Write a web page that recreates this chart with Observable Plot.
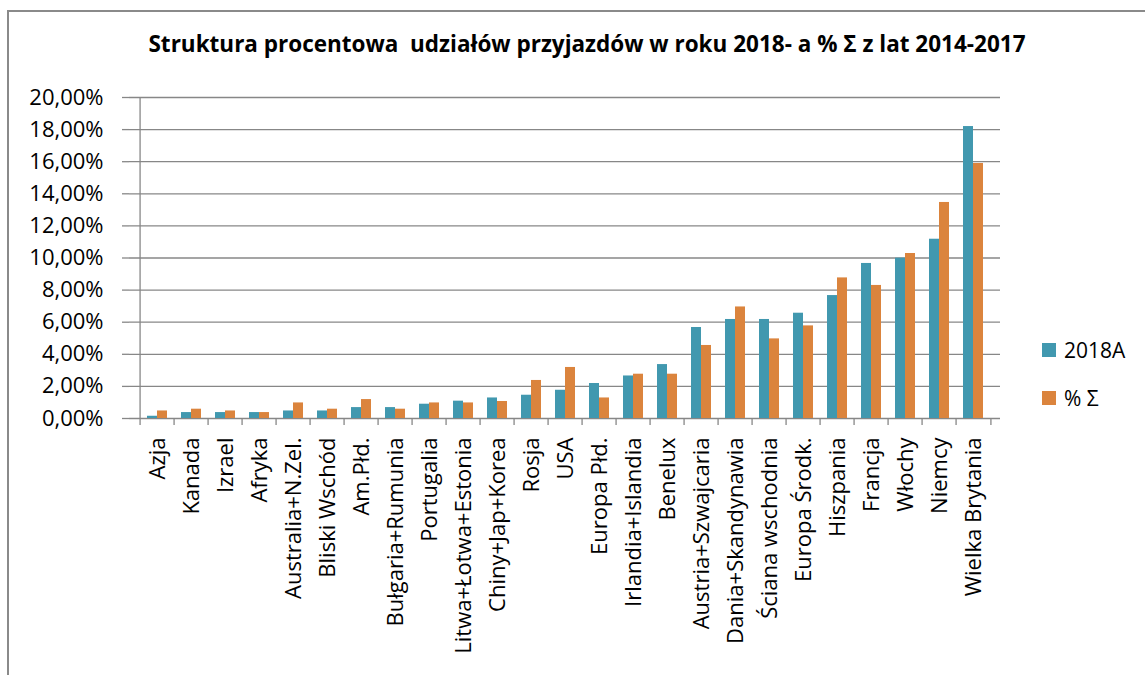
<!DOCTYPE html>
<html>
<head>
<meta charset="utf-8">
<script src="https://cdn.jsdelivr.net/npm/d3@7"></script>
<script src="https://cdn.jsdelivr.net/npm/@observablehq/plot@0.6"></script>
<style>
  html, body { margin: 0; padding: 0; background: #fff; }
  #wrap { position: relative; width: 1145px; height: 675px; overflow: hidden; font-family: "Open Sans", sans-serif; }
  #border { position: absolute; left: 7px; top: 10px; right: -5px; bottom: -5px; border-left: 2px solid #8a8a8a; border-top: 2px solid #8a8a8a; }
  #title { position: absolute; left: 0; width: 1174px; top: 30px; text-align: center; font-weight: bold; font-size: 22.5px; line-height: 1.2; white-space: pre; color: #000; }
  #chart { position: absolute; left: 0; top: 0; }
  .leg { position: absolute; left: 1042px; font-size: 21px; color: #000; line-height: 1; }
  .leg span.sw { position: absolute; left: 0; width: 14px; height: 14px; }
  .leg span.lb { position: absolute; left: 22px; white-space: pre; }
</style>
</head>
<body>
<div id="wrap">
  <div id="border"></div>
  <div id="title"></div>
  <div id="chart"></div>
  <div id="legend"></div>
</div>
<script>
const titleText = "Struktura procentowa  udziałów przyjazdów w roku 2018- a % Σ z lat 2014-2017";

const categories = [
  "Azja", "Kanada", "Izrael", "Afryka", "Australia+N.Zel.", "Bliski Wschód",
  "Am.Płd.", "Bułgaria+Rumunia", "Portugalia", "Litwa+Łotwa+Estonia",
  "Chiny+Jap+Korea", "Rosja", "USA", "Europa Płd.", "Irlandia+Islandia",
  "Benelux", "Austria+Szwajcaria", "Dania+Skandynawia", "Ściana wschodnia",
  "Europa Środk.", "Hiszpania", "Francja", "Włochy", "Niemcy", "Wielka Brytania"
];

const seriesNames = ["2018A", "% Σ"];
const seriesColors = ["#4198af", "#db843d"];

// percent values
const values2018A = [0.14, 0.37, 0.37, 0.37, 0.47, 0.47, 0.68, 0.68, 0.89, 1.08,
  1.28, 1.45, 1.76, 2.18, 2.65, 3.36, 5.67, 6.17, 6.17, 6.56, 7.66, 9.66, 9.99, 11.17, 18.19];
const valuesSigma = [0.47, 0.58, 0.47, 0.37, 0.97, 0.58, 1.18, 0.58, 0.97, 0.97,
  1.06, 2.37, 3.18, 1.28, 2.76, 2.76, 4.55, 6.95, 4.96, 5.77, 8.76, 8.29, 10.28, 13.46, 15.89];

const yTicks = [0, 0.02, 0.04, 0.06, 0.08, 0.10, 0.12, 0.14, 0.16, 0.18, 0.20];
const yTickFormat = d => (d * 100).toFixed(2).replace(".", ",") + "%";

const rows = categories.map((c, i) => ({category: c, a: values2018A[i] / 100, s: valuesSigma[i] / 100}));

const W = 1145, H = 675, mL = 129, mR = 145, mT = 97, mB = 257;
const step = (W - mL - mR) / categories.length;
const pInner = 0.426;
const half = step * (1 - pInner) / 2;
const grey = "#878787";

const chart = Plot.plot({
  width: W, height: H,
  marginLeft: mL, marginRight: mR, marginTop: mT, marginBottom: mB,
  style: {fontFamily: "Open Sans", fontSize: "22px", background: "transparent", color: "#000", overflow: "visible"},
  x: {domain: categories, paddingInner: pInner, paddingOuter: pInner / 2, axis: null, label: null},
  y: {domain: [0, 0.2], axis: null, label: null},
  marks: [
    Plot.ruleY(yTicks, {stroke: grey, strokeWidth: 1.3}),
    Plot.barY(rows, {x: "category", y: "a", fill: seriesColors[0], insetRight: half}),
    Plot.barY(rows, {x: "category", y: "s", fill: seriesColors[1], insetLeft: half}),
    Plot.ruleX([categories[0]], {x: d => d, dx: -step / 2, y1: 0, y2: 0.2, stroke: grey, strokeWidth: 1.3}),
    Plot.axisY({ticks: yTicks, tickFormat: yTickFormat, tickSize: 7, tickPadding: 19, stroke: grey, fill: "#000", fontSize: 22, strokeWidth: 1.3, label: null}),
    Plot.axisX({ticks: categories, tickSize: 7, dx: -step / 2, stroke: grey, fill: "none", strokeWidth: 1.3, label: null}),
    Plot.axisX({ticks: [categories[categories.length - 1]], tickSize: 7, dx: step / 2, stroke: grey, fill: "none", strokeWidth: 1.3, label: null}),
    Plot.axisX({ticks: categories, tickSize: 0, tickPadding: 19, tickRotate: -90, fill: "#000", fontSize: 22, label: null})
  ]
});
document.getElementById("chart").appendChild(chart);
document.getElementById("title").textContent = titleText;

const legend = document.getElementById("legend");
const legTops = [340, 388];
seriesNames.forEach((n, i) => {
  const d = document.createElement("div");
  d.className = "leg";
  d.style.top = legTops[i] + "px";
  d.innerHTML = `<span class="sw" style="top:3px;background:${seriesColors[i]}"></span><span class="lb"></span>`;
  d.querySelector(".lb").textContent = n;
  legend.appendChild(d);
});
</script>
</body>
</html>
